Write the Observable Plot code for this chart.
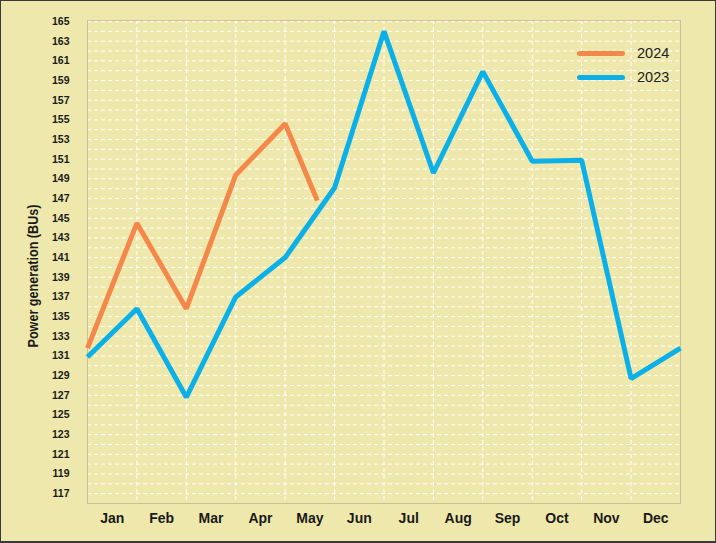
<!DOCTYPE html>
<html>
<head>
<meta charset="utf-8">
<script src="https://cdn.jsdelivr.net/npm/d3@7"></script>
<script src="https://cdn.jsdelivr.net/npm/@observablehq/plot@0.6"></script>
<style>
  html, body { margin: 0; padding: 0; background: #fff; }
  #wrap { position: relative; width: 714px; height: 540px; border: 1px solid #3a3a3a; border-bottom-width: 2px; background: #efe8ac; overflow: hidden; }
  #legend { position: absolute; left: 576px; top: 40px; font-family: "Liberation Sans", Arial, sans-serif; font-size: 14.5px; color: #222; }
  #legend .row { display: flex; align-items: center; height: 24px; }
  #legend .sw { width: 48px; height: 5px; border-radius: 3px; margin-right: 12px; }
</style>
</head>
<body>
<div id="wrap"><div id="legend"></div></div>
<script>
const months = ["Jan","Feb","Mar","Apr","May","Jun","Jul","Aug","Sep","Oct","Nov","Dec"];
// x positions are month-boundary indices (0 = start of Jan ... 12 = end of Dec)
const x2023 = [0, 1, 2, 3, 4, 5, 6, 7, 8, 9, 10, 11, 12];
const v2023 = [130.9, 135.8, 126.8, 137.0, 141.0, 148.1, 164.0, 149.6, 159.9, 150.8, 150.9, 128.7, 131.8];
const x2024 = [0, 1, 2, 3, 4, 4.65];
const v2024 = [131.8, 144.5, 135.8, 149.4, 154.6, 146.8];
const seriesNames = ["2024", "2023"];
const seriesColors = ["#f4874a", "#0cb0e9"];
const yTicks = d3.range(117, 166, 2);
const yTitle = "Power generation (BUs)";

const data = [
  ...x2023.map((x, i) => ({series: "2023", x, v: v2023[i]})),
  ...x2024.map((x, i) => ({series: "2024", x, v: v2024[i]}))
];

const font = "'Liberation Sans Narrow', 'Arial Narrow', 'Liberation Sans', Arial, sans-serif";

const chart = Plot.plot({
  width: 714,
  height: 540,
  marginLeft: 86,
  marginRight: 35,
  marginTop: 19,
  marginBottom: 38,
  style: {background: "transparent", fontFamily: font},
  x: {type: "linear", domain: [0, 12]},
  y: {domain: [116, 165.1]},
  color: {domain: seriesNames, range: seriesColors},
  marks: [
    Plot.gridY(d3.range(116, 166), {stroke: "#ffffff", strokeOpacity: 1, strokeWidth: 1, strokeDasharray: "4,3"}),
    Plot.gridX(d3.range(1, 12), {stroke: "#ffffff", strokeOpacity: 1, strokeWidth: 1, strokeDasharray: "4,3"}),
    Plot.frame({stroke: "#cdbf95", strokeWidth: 1}),
    Plot.axisY(yTicks, {
      tickSize: 0, tickPadding: 18, fontSize: 10.5, fontWeight: "bold", fill: "#1a1a1a", label: null
    }),
    Plot.text([yTitle], {
      frameAnchor: "left", rotate: -90, textAnchor: "start", dx: -54, dy: 85.5,
      fontSize: 15, fontWeight: "bold", fill: "#1a1a1a"
    }),
    Plot.axisX(d3.range(12).map(i => i + 0.5), {
      tickSize: 0, tickPadding: 10, fontSize: 14, fontWeight: "bold", fill: "#1a1a1a",
      tickFormat: d => months[Math.floor(d)], label: null
    }),
    Plot.line(data, {x: "x", y: "v", z: "series", stroke: "series", strokeWidth: 5, strokeLinejoin: "miter", strokeLinecap: "butt"})
  ]
});
document.getElementById("wrap").prepend(chart);
// condense the y axis title like the reference
chart.querySelectorAll("text").forEach(t => {
  if (t.textContent === yTitle) {
    t.setAttribute("textLength", "143");
    t.setAttribute("lengthAdjust", "spacingAndGlyphs");
  }
});
chart.style.position = "absolute";
chart.style.left = "0";
chart.style.top = "0";

const legend = d3.select("#legend");
seriesNames.forEach((s, i) => {
  const row = legend.append("div").attr("class", "row");
  row.append("div").attr("class", "sw").style("background", seriesColors[i]);
  row.append("span").text(s);
});
</script>
</body>
</html>
